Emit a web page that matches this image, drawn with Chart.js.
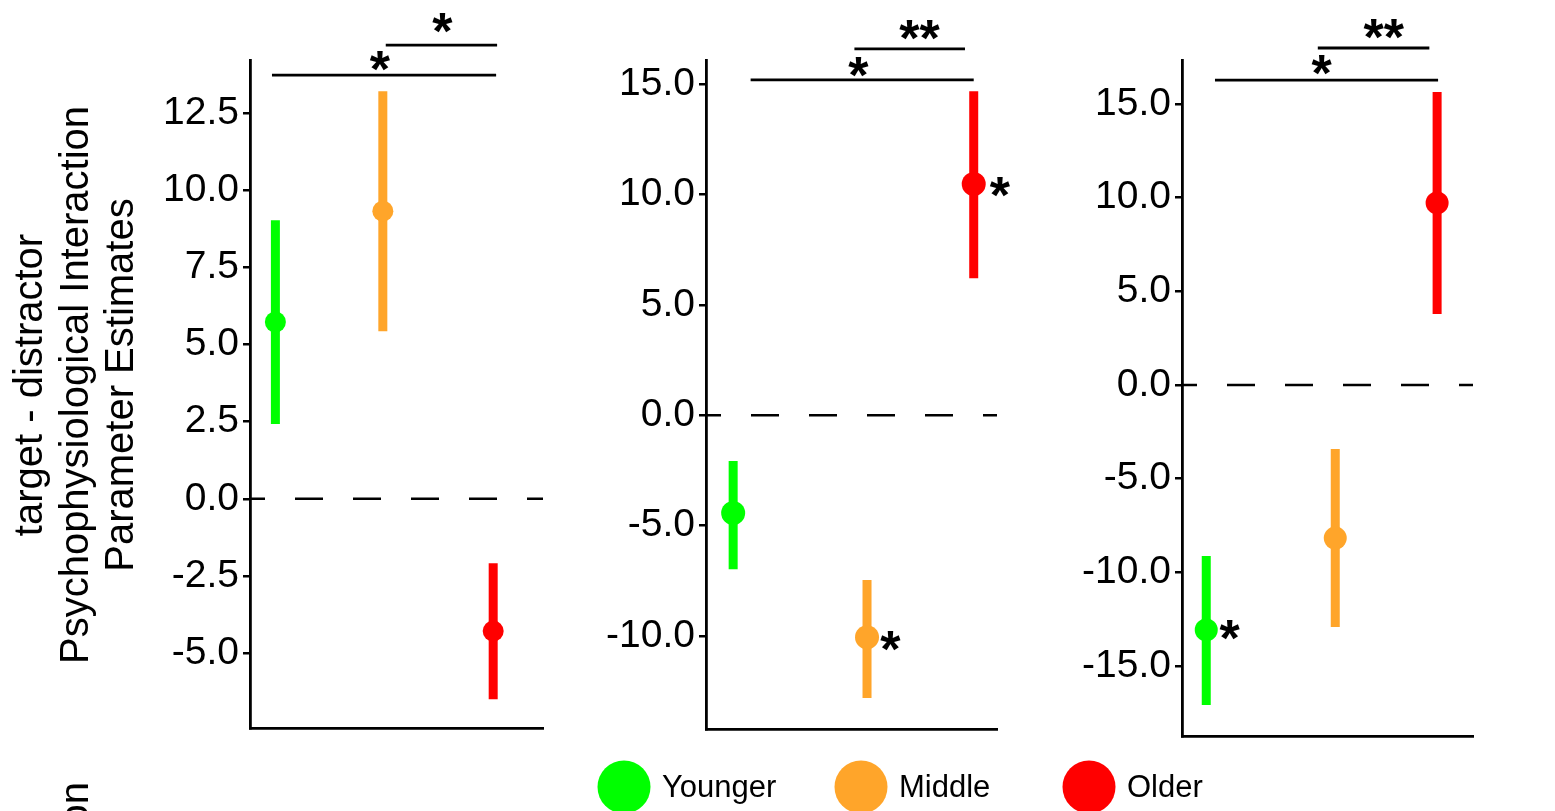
<!DOCTYPE html>
<html><head><meta charset="utf-8">
<script src="https://cdn.jsdelivr.net/npm/chart.js@4.4.1/dist/chart.umd.min.js"></script>
<style>
html,body{margin:0;padding:0;background:#fff;width:1555px;height:811px;overflow:hidden;}
canvas{position:absolute;left:0;top:0;}
</style></head><body>
<canvas id="c1" width="1555" height="811"></canvas>
<canvas id="c2" width="1555" height="811"></canvas>
<canvas id="c3" width="1555" height="811"></canvas>
<script>
// ---------- data ----------
const groups = ['Younger', 'Middle', 'Older'];
const groupColors = ['#00FF00', '#FFA52A', '#FF0000'];
const yTitleLines = ['target - distractor', 'Psychophysiological Interaction', 'Parameter Estimates'];

// Panel A
const panelA_x    = [0.76, 1.86, 2.99];
const panelA_mean = [5.73, 9.32, -4.29];
const panelA_low  = [2.42, 5.43, -6.50];
const panelA_high = [9.03, 13.21, -2.09];
const panelA_ticks = [-5, -2.5, 0, 2.5, 5, 7.5, 10, 12.5];
const panelA_range = [-7.43, 14.22];
const panelA_brackets = [{x1: 0.725, x2: 3.02, y: 13.73}, {x1: 1.89, x2: 3.03, y: 14.70}];
const panelA_stars = [{x: 1.83, y: 14.18, t: '*'}, {x: 2.47, y: 15.42, t: '*'}];

// Panel B
const panelB_x    = [0.78, 2.16, 3.26];
const panelB_mean = [-4.43, -10.05, 10.47];
const panelB_low  = [-6.97, -12.81, 6.21];
const panelB_high = [-2.07, -7.46, 14.68];
const panelB_ticks = [-10, -5, 0, 5, 10, 15];
const panelB_range = [-14.21, 16.09];
const panelB_brackets = [{x1: 0.96, x2: 3.26, y: 15.19}, {x1: 2.03, x2: 3.17, y: 16.59}];
const panelB_stars = [{x: 2.07, y: 15.77, t: '*'}, {x: 2.70, y: 17.45, t: '**'}, {x: 3.53, y: 10.34, t: '*'}, {x: 2.40, y: -10.22, t: '*'}];

// Panel C
const panelC_x    = [0.75, 2.08, 3.13];
const panelC_mean = [-13.08, -8.17, 9.72];
const panelC_low  = [-17.08, -12.92, 3.79];
const panelC_high = [-9.13, -3.42, 15.64];
const panelC_ticks = [-15, -10, -5, 0, 5, 10, 15];
const panelC_range = [-18.74, 17.35];
const panelC_brackets = [{x1: 0.84, x2: 3.14, y: 16.28}, {x1: 1.90, x2: 3.05, y: 17.99}];
const panelC_stars = [{x: 1.94, y: 17.08, t: '*'}, {x: 2.58, y: 19.01, t: '**'}, {x: 0.99, y: -13.08, t: '*'}];

const xRange = [0.5, 3.5];

// ---------- layout ----------
const W = 1555, H = 811, YW = 120;
const FONT = "'Liberation Sans', Arial, Helvetica, sans-serif";
Chart.defaults.font.family = FONT;

const panels = [
  {id: 'c1', area: {left: 250, right: 543, top: 60, bottom: 728}, x: panelA_x, mean: panelA_mean, low: panelA_low, high: panelA_high,
   ticks: panelA_ticks, range: panelA_range, brackets: panelA_brackets, stars: panelA_stars, r: 10.5, main: true},
  {id: 'c2', area: {left: 706, right: 997, top: 60, bottom: 729}, x: panelB_x, mean: panelB_mean, low: panelB_low, high: panelB_high,
   ticks: panelB_ticks, range: panelB_range, brackets: panelB_brackets, stars: panelB_stars, r: 12},
  {id: 'c3', area: {left: 1182, right: 1473, top: 60, bottom: 736}, x: panelC_x, mean: panelC_mean, low: panelC_low, high: panelC_high,
   ticks: panelC_ticks, range: panelC_range, brackets: panelC_brackets, stars: panelC_stars, r: 11.5}
];

const starPlugin = {
  id: 'stars',
  afterDatasetsDraw(chart, args, opts) {
    const ctx = chart.ctx, xs = chart.scales.x, ys = chart.scales.y;
    ctx.save();
    ctx.fillStyle = '#000';
    ctx.font = 'bold 52px ' + FONT;
    ctx.textAlign = 'center';
    ctx.textBaseline = 'alphabetic';
    (opts.items || []).forEach(s => {
      const m = ctx.measureText(s.t);
      const px = xs.getPixelForValue(s.x);
      const py = ys.getPixelForValue(s.y);
      const base = py + (m.actualBoundingBoxAscent - m.actualBoundingBoxDescent) / 2;
      ctx.fillText(s.t, px, base);
    });
    ctx.restore();
  }
};

const decorPlugin = {
  id: 'decor',
  afterDraw(chart) {
    const ctx = chart.ctx;
    ctx.save();
    ctx.fillStyle = '#000';
    // y-axis title (3 lines, rotated)
    const drawTitle = (cy) => {
      ctx.save();
      ctx.font = '40px ' + FONT;
      ctx.textAlign = 'center';
      ctx.textBaseline = 'middle';
      const xsC = [31, 77, 122];
      yTitleLines.forEach((t, i) => {
        ctx.save();
        ctx.translate(xsC[i], cy);
        ctx.rotate(-Math.PI / 2);
        ctx.fillText(t, 0, 0);
        ctx.restore();
      });
      ctx.restore();
    };
    drawTitle(385);
    // next figure row's title (only its top end visible)
    ctx.font = '40px ' + FONT;
    const w2 = ctx.measureText(yTitleLines[1]).width;
    drawTitle(782 + w2 / 2);
    // legend
    const lx = [624, 861, 1089];
    ctx.font = '31px ' + FONT;
    ctx.textAlign = 'left';
    ctx.textBaseline = 'middle';
    groups.forEach((g, i) => {
      ctx.beginPath();
      ctx.fillStyle = groupColors[i];
      ctx.arc(lx[i], 787, 26.5, 0, Math.PI * 2);
      ctx.fill();
      ctx.fillStyle = '#000';
      ctx.fillText(g, lx[i] + 38, 788);
    });
    ctx.restore();
  }
};

panels.forEach(p => {
  const datasets = [];
  // means
  datasets.push({
    data: p.x.map((x, i) => ({x, y: p.mean[i]})),
    pointRadius: p.r, pointBackgroundColor: groupColors, pointBorderWidth: 0,
    showLine: false, order: 0
  });
  // error bars
  p.x.forEach((x, i) => {
    datasets.push({
      data: [{x, y: p.low[i]}, {x, y: p.high[i]}],
      showLine: true, borderColor: groupColors[i], borderWidth: 9, pointRadius: 0,
      borderCapStyle: 'butt', order: 1
    });
  });
  // zero line
  datasets.push({
    data: [{x: xRange[0], y: 0}, {x: xRange[1], y: 0}],
    showLine: true, borderColor: '#000', borderWidth: 2.5, borderDash: [28, 30], borderDashOffset: 13,
    pointRadius: 0, order: 2
  });
  // significance brackets
  p.brackets.forEach(b => {
    datasets.push({
      data: [{x: b.x1, y: b.y}, {x: b.x2, y: b.y}],
      showLine: true, borderColor: '#000', borderWidth: 2.8, pointRadius: 0, clip: false, order: 3
    });
  });

  new Chart(document.getElementById(p.id), {
    type: 'scatter',
    data: {datasets},
    options: {
      responsive: false, animation: false, devicePixelRatio: 1, events: [],
      layout: {padding: {left: p.area.left - YW, right: W - p.area.right, top: p.area.top, bottom: H - p.area.bottom}},
      plugins: {legend: {display: false}, tooltip: {enabled: false}, stars: {items: p.stars}},
      scales: {
        x: {
          type: 'linear', min: xRange[0], max: xRange[1],
          ticks: {display: false}, grid: {display: false},
          border: {display: true, color: '#000', width: 2.8},
          afterFit: s => { s.height = 0; }
        },
        y: {
          type: 'linear', min: p.range[0], max: p.range[1],
          afterBuildTicks: s => { s.ticks = p.ticks.map(v => ({value: v})); },
          ticks: {color: '#000', font: {size: 39, family: FONT}, padding: 4, callback: v => Number(v).toFixed(1)},
          grid: {display: true, drawOnChartArea: false, drawTicks: true, tickLength: 7, color: '#000', lineWidth: 2.5},
          border: {display: true, color: '#000', width: 2.8},
          afterFit: s => { s.width = YW; }
        }
      }
    },
    plugins: p.main ? [starPlugin, decorPlugin] : [starPlugin]
  });
});
</script></body></html>
